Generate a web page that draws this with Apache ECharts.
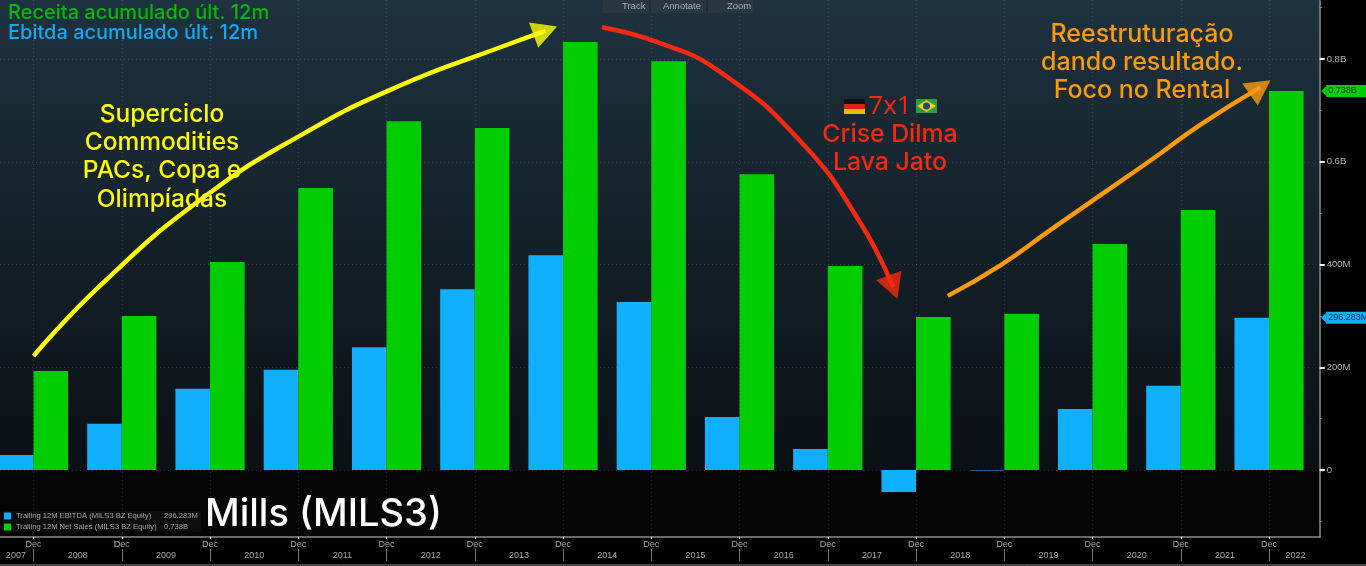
<!DOCTYPE html>
<html>
<head>
<meta charset="utf-8">
<style>
html, body { margin: 0; padding: 0; background: #000; overflow: hidden; }
#main { width: 1366px; height: 566px; }
</style>
<script src="https://cdn.jsdelivr.net/npm/echarts@6/dist/echarts.min.js"></script>
</head>
<body>
<div id="main"></div>
<script>
const years = [2007, 2008, 2009, 2010, 2011, 2012, 2013, 2014, 2015, 2016, 2017, 2018, 2019, 2020, 2021];
const ebitda = [29, 90, 158, 195, 239, 352, 418, 327, 103, 41, -43, -1, 119, 164, 296.283];
const netSales = [193, 300, 405, 549, 679, 666, 833, 796, 576, 397, 298, 304, 440, 506, 738];

const yearLabelPos = [2006.8, 2007.5, 2008.5, 2009.5, 2010.5, 2011.5, 2012.5, 2013.5, 2014.5, 2015.5, 2016.5, 2017.5, 2018.5, 2019.5, 2020.5, 2021.3];
const yMajor = [0, 200, 400, 600, 800];
const yMinor = [-100, 100, 300, 500, 700, 900];

// hand drawn arrows as [x, value]
const yellowArrow = [[2007, 222], [2007.76, 360], [2008.89, 526], [2010.03, 652], [2011.16, 749], [2012.29, 823], [2012.8, 855]];
const redArrow = [[2013.44, 862], [2014.1, 831], [2014.78, 775], [2015.69, 640], [2016.37, 481], [2016.74, 356]];
const orangeArrow = [[2017.36, 339], [2017.96, 399], [2018.52, 467], [2019.09, 535], [2019.66, 603], [2020.22, 672], [2020.9, 745]];

const xMin = 2006.62, xMax = 2021.574;
const yMin = -130.4, yMax = 915;
const BLUE = '#10b0ff', GREEN = '#00cc00';
const NOTE_FONT = 'Inter, "Open Sans", sans-serif';
const SMALL_FONT = '"Liberation Sans", sans-serif';

const chart = echarts.init(document.getElementById('main'));

function yLabel(v) {
    if (v === 0) return '0';
    return v >= 600 ? (v / 1000) + 'B' : v + 'M';
}

function arrow(points, color) {
    return {
        type: 'line',
        data: points,
        smooth: true,
        showSymbol: false,
        silent: true,
        z: 8,
        lineStyle: { color: color, width: 4.5 }
    };
}

function arrowHead(point, color, rotate) {
    return {
        type: 'scatter',
        data: [point],
        symbol: 'triangle',
        symbolSize: [27, 25],
        symbolRotate: rotate,
        silent: true,
        z: 9,
        itemStyle: { color: color }
    };
}

// empty line series that only carries the value tag on the right of the axis
function tagSeries(value, color, textColor, text) {
    return {
        type: 'line',
        data: [],
        z: 7,
        markPoint: {
            symbol: 'triangle',
            symbolSize: [10, 5],
            symbolRotate: 90,
            symbolOffset: [4, 0],
            silent: true,
            itemStyle: { color: color },
            data: [{ coord: [xMax, value] }],
            label: {
                show: true,
                position: 'right',
                distance: 0,
                formatter: text,
                fontFamily: SMALL_FONT,
                fontSize: 9,
                color: textColor,
                backgroundColor: color,
                width: 40,
                align: 'left',
                padding: [1.5, 0, 1.5, 2]
            }
        }
    };
}

function note(x, y, text, color, size, align, family) {
    return {
        type: 'text',
        x: x,
        y: y,
        z: 20,
        silent: true,
        style: {
            text: text,
            fill: color,
            font: '500 ' + size + 'px ' + (family || NOTE_FONT),
            textAlign: align || 'center',
            textVerticalAlign: 'middle'
        }
    };
}

function toolbarText(x, text) {
    return {
        type: 'text', x: x, y: 6, z: 21, silent: true,
        style: { text: text, fill: '#a9b2b8', font: '9.5px ' + SMALL_FONT, textVerticalAlign: 'middle' }
    };
}

function toolbarRule(x) {
    return { type: 'line', z: 21, silent: true, shape: { x1: x, y1: 0, x2: x, y2: 13 }, style: { stroke: '#1a2229', lineWidth: 1 } };
}

const legendText = {
    'Trailing 12M EBITDA (MILS3 BZ Equity)': '296.283M',
    'Trailing 12M Net Sales (MILS3 BZ Equity)': '0.738B'
};

const option = {
    backgroundColor: '#000',
    animation: false,
    textStyle: { fontFamily: SMALL_FONT },
    grid: {
        left: 0,
        top: 0,
        right: 46.3,
        bottom: 29,
        show: true,
        borderWidth: 0,
        backgroundColor: new echarts.graphic.LinearGradient(0, 0, 0, 1, [
            { offset: 0, color: '#1e323f' },
            { offset: 0.874, color: '#0b1014' },
            { offset: 0.876, color: '#050505' },
            { offset: 1, color: '#050505' }
        ])
    },
    legend: {
        left: 3,
        top: 511,
        orient: 'vertical',
        icon: 'rect',
        itemWidth: 7,
        itemHeight: 7,
        itemGap: 3,
        selectedMode: false,
        backgroundColor: 'rgba(30,30,30,0.35)',
        padding: [1, 3, 1, 1],
        data: Object.keys(legendText),
        formatter: (name) => `{n|${name}}{v|${legendText[name]}}`,
        textStyle: {
            color: '#a5a5a5',
            fontSize: 8,
            fontFamily: SMALL_FONT,
            rich: {
                n: { width: 148, color: '#a5a5a5', fontSize: 7.6, fontFamily: SMALL_FONT },
                v: { color: '#a5a5a5', fontSize: 7.6, fontFamily: SMALL_FONT }
            }
        }
    },
    xAxis: [
        {
            type: 'value',
            min: xMin,
            max: xMax,
            position: 'bottom',
            axisLine: { onZero: false, lineStyle: { color: '#8c8c8c', width: 1.5 } },
            axisTick: { customValues: years, length: 2, lineStyle: { color: '#fff' } },
            axisLabel: { customValues: years, formatter: () => 'Dec', color: '#a8a8a8', fontSize: 9, margin: 3 },
            splitLine: { show: true, lineStyle: { color: 'rgba(255,255,255,0.13)', type: [1, 3] } }
        },
        {
            type: 'value',
            min: xMin,
            max: xMax,
            position: 'bottom',
            offset: 24,
            axisLine: { show: false, onZero: false },
            axisTick: { customValues: years, inside: true, length: 12, lineStyle: { color: '#777' } },
            axisLabel: {
                customValues: yearLabelPos,
                inside: true,
                formatter: (v) => String(Math.ceil(v)),
                color: '#a8a8a8',
                fontSize: 9,
                margin: 1
            },
            splitLine: { show: false }
        }
    ],
    yAxis: [
        {
            type: 'value',
            min: yMin,
            max: yMax,
            position: 'right',
            axisLine: { show: true, onZero: false, lineStyle: { color: '#8c8c8c', width: 1.5 } },
            axisTick: { show: true, customValues: yMajor, length: 5, lineStyle: { color: '#fff', width: 2 } },
            axisLabel: { customValues: yMajor, formatter: yLabel, color: '#b0b0b0', fontSize: 9.5, margin: 7 },
            splitLine: { show: true, lineStyle: { color: 'rgba(255,255,255,0.13)', type: [1, 3] } }
        },
        {
            type: 'value',
            min: yMin,
            max: yMax,
            position: 'right',
            axisLine: { show: false, onZero: false },
            axisTick: { show: true, customValues: yMinor, length: 2, lineStyle: { color: '#9a9a9a' } },
            axisLabel: { show: false },
            splitLine: { show: false }
        }
    ],
    series: [
        {
            name: 'Trailing 12M EBITDA (MILS3 BZ Equity)',
            type: 'bar',
            data: years.map((y, i) => [y, ebitda[i]]),
            barWidth: 34.6,
            barGap: 0,
            itemStyle: { color: BLUE }
        },
        {
            name: 'Trailing 12M Net Sales (MILS3 BZ Equity)',
            type: 'bar',
            data: years.map((y, i) => [y, netSales[i]]),
            barWidth: 34.6,
            barGap: 0,
            itemStyle: { color: GREEN }
        },
        tagSeries(296.283, BLUE, '#06324a', '296.283M'),
        tagSeries(738, GREEN, '#04380a', '0.738B'),
        arrow(yellowArrow, '#ffff00'),
        arrowHead(yellowArrow[yellowArrow.length - 1], '#ffff00', -70),
        arrow(redArrow, '#f52a10'),
        arrowHead(redArrow[redArrow.length - 1], '#f52a10', -160),
        arrow(orangeArrow, '#ff9a0c'),
        arrowHead(orangeArrow[orangeArrow.length - 1], '#ff9a0c', -55)
    ],
    graphic: [
        note(8, 13, 'Receita acumulado últ. 12m', '#00b800', 20, 'left'),
        note(8, 33, 'Ebitda acumulado últ. 12m', '#12aaf0', 20, 'left'),
        note(162, 115, 'Superciclo', '#ffff00', 24.5),
        note(162, 143, 'Commodities', '#ffff00', 24.5),
        note(162, 171, 'PACs, Copa e', '#ffff00', 24.5),
        note(162, 200, 'Olimpíadas', '#ffff00', 24.5),
        note(890, 107, '7x1', '#f52a10', 26, 'center', '"Open Sans", sans-serif'),
        note(890, 135, 'Crise Dilma', '#f52a10', 24.8),
        note(890, 163, 'Lava Jato', '#f52a10', 24.8),
        note(1142, 34, 'Reestruturação', '#ff9a0c', 25),
        note(1142, 62, 'dando resultado.', '#ff9a0c', 25),
        note(1142, 90, 'Foco no Rental', '#ff9a0c', 25),
        note(205, 515, 'Mills (MILS3)', '#ffffff', 38, 'left'),
        // germany flag
        { type: 'rect', z: 20, silent: true, shape: { x: 844, y: 99, width: 21, height: 5 }, style: { fill: '#111' } },
        { type: 'rect', z: 20, silent: true, shape: { x: 844, y: 104, width: 21, height: 5 }, style: { fill: '#dd2211' } },
        { type: 'rect', z: 20, silent: true, shape: { x: 844, y: 109, width: 21, height: 5 }, style: { fill: '#f5b800' } },
        // brazil flag
        { type: 'rect', z: 20, silent: true, shape: { x: 916, y: 99, width: 21, height: 14 }, style: { fill: '#2f9a48' } },
        { type: 'polygon', z: 21, silent: true, shape: { points: [[926.5, 100], [936, 106], [926.5, 112], [917, 106]] }, style: { fill: '#f0d000' } },
        { type: 'circle', z: 22, silent: true, shape: { cx: 926.5, cy: 106, r: 3.5 }, style: { fill: '#1e4a8c' } },
        // toolbar on top of the plot
        { type: 'rect', z: 20, silent: true, shape: { x: 603, y: 0, width: 150, height: 13 }, style: { fill: '#2a3640' } },
        toolbarRule(650),
        toolbarRule(707),
        toolbarText(622, 'Track'),
        toolbarText(663, 'Annotate'),
        toolbarText(727, 'Zoom'),
        // frame line under the time axis
        { type: 'line', z: 20, silent: true, shape: { x1: 0, y1: 565, x2: 1366, y2: 565 }, style: { stroke: '#8c8c8c', lineWidth: 1 } }
    ]
};

chart.setOption(option);
</script>
</body>
</html>
